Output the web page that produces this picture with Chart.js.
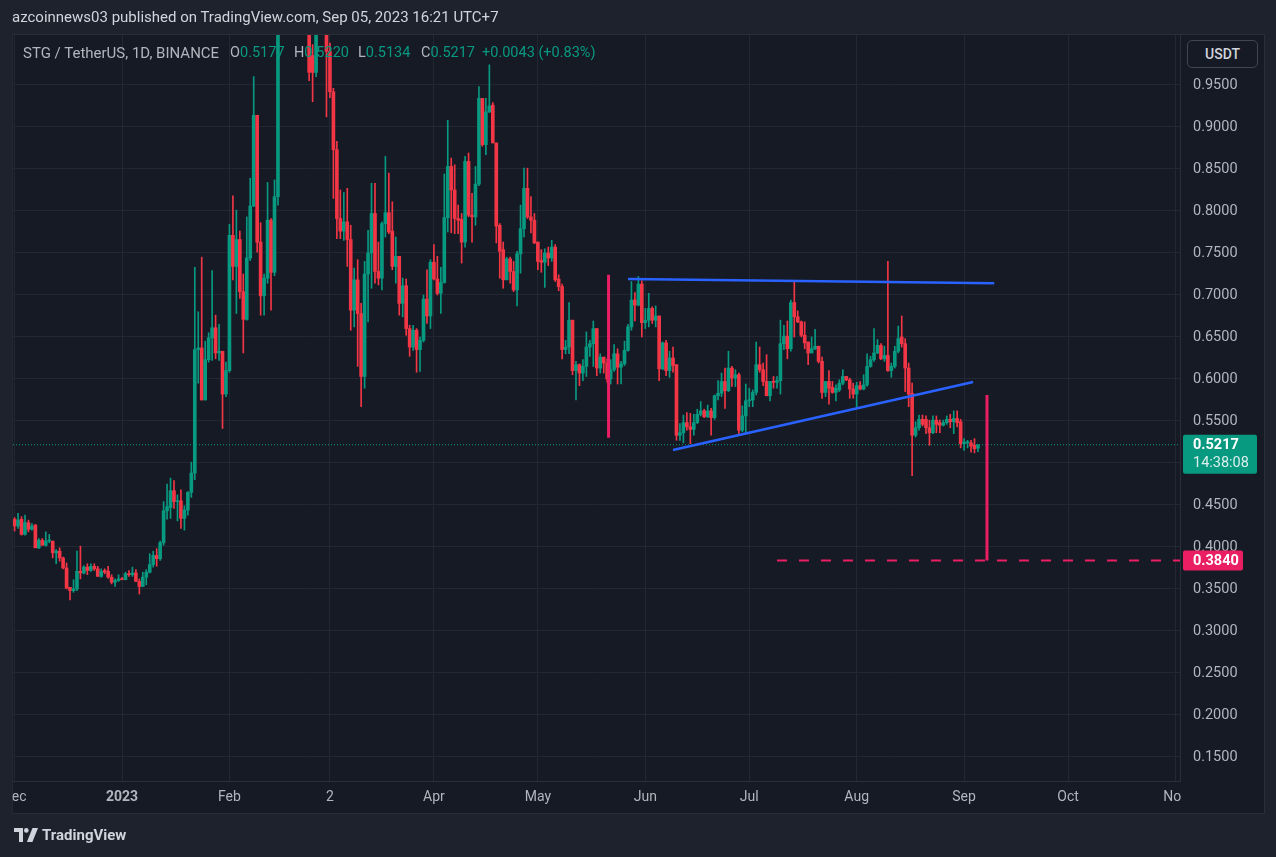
<!DOCTYPE html>
<html>
<head>
<meta charset="utf-8">
<script src="https://cdn.jsdelivr.net/npm/chart.js@4.4.0/dist/chart.umd.min.js"></script>
<style>
  html, body { margin: 0; padding: 0; background: #1e222d; }
  #wrap { position: relative; width: 1276px; height: 857px; overflow: hidden; font-family: Roboto, sans-serif; }
  #chart { position: absolute; left: 0; top: 0; }
  .hdr { position: absolute; left: 12px; top: 8px; font-size: 15px; color: #d1d4dc; white-space: nowrap; }
  .lg { position: absolute; top: 44px; font-size: 14.5px; color: #b2b5be; white-space: nowrap; }
  .lg b { font-weight: normal; color: #089981; }
  .unit { position: absolute; left: 1187px; top: 40px; width: 71px; height: 28px; box-sizing: border-box;
          border: 1px solid #434651; border-radius: 5px; background: #161a25; color: #d1d4dc;
          font-size: 14px; font-weight: 500; text-align: center; line-height: 26px; }
  .foot { position: absolute; left: 14px; top: 826px; height: 18px; display: flex; align-items: center;
          color: #d1d4dc; font-size: 15px; font-weight: 700; }
  .foot svg { margin-right: 4px; }
</style>
</head>
<body>
<div id="wrap">
  <canvas id="chart" width="1276" height="857"></canvas>
  <div class="hdr">azcoinnews03 published on TradingView.com, Sep 05, 2023 16:21 UTC+7</div>
  <div class="lg" style="left:23px; font-size:15px">STG / TetherUS, 1D, BINANCE</div>
  <div class="lg" style="left:230px">O<b>0.5177</b></div>
  <div class="lg" style="left:294px">H<b>0.5220</b></div>
  <div class="lg" style="left:358px">L<b>0.5134</b></div>
  <div class="lg" style="left:421px">C<b>0.5217</b></div>
  <div class="lg" style="left:482px"><b>+0.0043 (+0.83%)</b></div>
  <div class="unit">USDT</div>
  <div class="foot">
    <svg width="24" height="14" viewBox="0 0 24 14"><path fill="#d1d4dc" d="M0 0h9v14H5V4H0z"/><circle fill="#d1d4dc" cx="12.3" cy="2.4" r="2.3"/><path fill="#d1d4dc" d="M18.5 0H24l-5.6 14h-5.5z"/></svg>
    TradingView
  </div>
</div>
<script>
// daily candles [open, high, low, close], day 0 = 1 Dec 2022
const dec22 = [
  [.433,.435,.419,.425],[.425,.440,.422,.432],[.433,.436,.414,.415],[.415,.438,.414,.429],
  [.429,.432,.418,.421],[.421,.428,.420,.425],[.426,.427,.399,.399],[.399,.410,.398,.408],
  [.408,.410,.402,.402],[.402,.418,.401,.407],[.407,.415,.405,.408],[.407,.407,.387,.393],
  [.393,.397,.380,.395],[.395,.399,.383,.387],[.387,.388,.374,.375],[.375,.381,.350,.351],
  [.352,.352,.337,.348],[.348,.361,.346,.350],[.350,.395,.348,.371],[.371,.401,.362,.369],
  [.369,.378,.368,.376],[.376,.380,.367,.372],[.372,.380,.371,.377],[.377,.380,.372,.374],
  [.374,.377,.365,.365],[.365,.374,.364,.371],[.372,.374,.368,.370],[.371,.377,.363,.364],
  [.364,.367,.356,.358],[.358,.362,.353,.360],[.360,.367,.359,.362]
];
const jan23 = [
  [.362,.364,.361,.361],[.361,.370,.361,.368],[.368,.372,.365,.367],[.367,.376,.365,.369],
  [.369,.373,.359,.359],[.359,.362,.344,.353],[.353,.370,.353,.364],[.364,.373,.355,.370],
  [.370,.392,.369,.379],[.379,.395,.376,.390],[.390,.398,.377,.386],[.386,.407,.384,.405],
  [.405,.454,.402,.443],[.443,.475,.433,.448],[.447,.482,.434,.467],[.467,.479,.446,.454],
  [.454,.462,.431,.455],[.455,.468,.422,.434],[.434,.449,.420,.444],[.444,.466,.438,.465],
  [.465,.501,.459,.488],[.488,.733,.480,.635],[.635,.680,.595,.637],[.637,.745,.575,.575],
  [.575,.645,.575,.623],[.623,.655,.620,.649],[.649,.729,.622,.661],[.661,.676,.624,.631],
  [.631,.665,.622,.633],[.633,.633,.541,.582],[.582,.620,.579,.610]
];
const feb23 = [
  [.610,.784,.608,.771],[.771,.818,.718,.734],[.734,.801,.678,.766],[.766,.776,.696,.704],
  [.704,.725,.631,.671],[.671,.793,.670,.744],[.744,.839,.741,.806],[.806,.960,.805,.914],
  [.914,.914,.751,.763],[.763,.786,.676,.699],[.699,.725,.676,.720],[.720,.834,.714,.789],
  [.789,.791,.682,.727],[.727,.837,.723,.817],[.817,1.09,.807,1.06],[1.06,1.16,1.04,1.13],
  [1.13,1.19,1.06,1.09],[1.09,1.22,1.07,1.18],[1.18,1.25,1.10,1.12],[1.12,1.21,1.08,1.17],
  [1.17,1.20,1.07,1.09],[1.09,1.14,1.03,1.06],[1.06,1.10,1.02,1.04],[1.04,1.06,.955,.965],
  [.985,.998,.930,.965],[.965,1.06,.960,1.03],[1.03,1.10,1.02,1.08],[1.08,1.09,1.02,1.04]
];
const mar23 = [
  [1.04,1.05,.912,.990],[.990,1.00,.935,.942],[.942,.946,.815,.873],[.873,.883,.767,.791],
  [.791,.825,.767,.776],[.776,.822,.765,.787],[.787,.827,.734,.766],[.766,.783,.658,.682],
  [.682,.732,.662,.718],[.718,.742,.615,.678],[.678,.690,.567,.603],[.603,.740,.589,.725],
  [.725,.777,.668,.750],[.750,.833,.708,.797],[.797,.833,.714,.728],[.728,.763,.712,.720],
  [.720,.787,.706,.785],[.785,.865,.769,.798],[.798,.845,.773,.775],[.776,.811,.730,.734],
  [.734,.769,.714,.746],[.746,.746,.676,.690],[.690,.720,.674,.711],[.711,.719,.652,.660],
  [.660,.664,.627,.638],[.638,.664,.634,.658],[.658,.660,.608,.635],[.635,.650,.609,.646],
  [.646,.700,.644,.695],[.695,.730,.666,.675],[.675,.742,.660,.739]
];
const apr23 = [
  [.739,.760,.718,.719],[.719,.746,.700,.702],[.702,.733,.678,.715],[.715,.844,.714,.792],
  [.792,.908,.775,.853],[.853,.863,.774,.825],[.825,.855,.773,.791],[.791,.807,.773,.789],
  [.790,.797,.738,.763],[.763,.865,.757,.859],[.859,.869,.793,.795],[.795,.821,.763,.793],
  [.793,.853,.783,.832],[.832,.948,.830,.934],[.934,.934,.877,.879],[.879,.934,.867,.918],
  [.918,.974,.917,.925],[.926,.929,.881,.881],[.881,.881,.762,.782],[.783,.785,.720,.752],
  [.754,.763,.708,.718],[.718,.745,.718,.743],[.743,.745,.714,.728],[.728,.740,.704,.706],
  [.706,.752,.687,.749],[.749,.807,.726,.779],[.779,.851,.769,.827],[.827,.851,.791,.793],
  [.793,.817,.774,.789],[.789,.797,.761,.762]
];
const may23 = [
  [.763,.763,.730,.740],[.741,.754,.727,.739],[.739,.755,.709,.750],[.750,.757,.735,.744],
  [.744,.765,.740,.757],[.757,.760,.716,.718],[.719,.724,.705,.710],[.710,.713,.624,.635],
  [.635,.646,.630,.638],[.638,.691,.630,.670],[.670,.670,.605,.610],[.610,.621,.575,.617],
  [.617,.618,.592,.607],[.607,.623,.598,.615],[.615,.656,.603,.638],[.638,.646,.627,.642],
  [.642,.669,.615,.660],[.660,.660,.604,.613],[.613,.630,.607,.626],[.626,.626,.607,.619],
  [.619,.624,.596,.600],[.600,.623,.594,.611],[.611,.641,.609,.630],[.630,.636,.594,.614],
  [.614,.621,.594,.618],[.618,.645,.616,.634],[.634,.665,.633,.662],[.662,.716,.658,.694],
  [.694,.703,.669,.688],[.688,.722,.687,.713],[.713,.717,.650,.667]
];
const jun23 = [
  [.667,.684,.660,.670],[.670,.702,.662,.684],[.684,.686,.666,.670],[.670,.687,.662,.675],
  [.675,.675,.598,.612],[.612,.644,.611,.643],[.643,.646,.604,.610],[.610,.633,.602,.625],
  [.625,.638,.608,.616],[.617,.617,.527,.533],[.533,.547,.527,.536],[.536,.557,.524,.548],
  [.548,.560,.539,.543],[.543,.559,.523,.540],[.540,.558,.533,.548],[.548,.564,.547,.558],
  [.558,.573,.556,.562],[.562,.564,.554,.555],[.555,.569,.554,.562],[.562,.565,.533,.554],
  [.554,.581,.552,.580],[.580,.598,.575,.583],[.583,.607,.579,.597],[.597,.613,.565,.586],
  [.586,.633,.585,.613],[.613,.615,.591,.601],[.601,.611,.591,.605],[.605,.607,.535,.539],
  [.539,.568,.537,.556],[.556,.594,.536,.574]
];
const jul23 = [
  [.574,.589,.567,.575],[.575,.587,.567,.584],[.584,.644,.581,.617],[.617,.638,.608,.611],
  [.611,.619,.592,.597],[.597,.629,.580,.580],[.580,.597,.574,.597],[.597,.603,.589,.596],
  [.596,.603,.589,.598],[.598,.670,.582,.642],[.642,.664,.635,.651],[.651,.669,.624,.636],
  [.636,.694,.633,.691],[.691,.716,.650,.674],[.674,.681,.667,.668],[.668,.669,.650,.652],
  [.652,.668,.636,.643],[.644,.644,.617,.631],[.631,.650,.631,.636],[.636,.659,.635,.639],
  [.639,.639,.619,.621],[.621,.626,.577,.584],[.584,.597,.579,.597],[.597,.610,.570,.589],
  [.590,.597,.583,.584],[.584,.593,.574,.589],[.587,.599,.585,.595],[.595,.611,.593,.603],
  [.603,.603,.598,.599],[.599,.601,.577,.588],[.588,.595,.577,.582]
];
const aug23 = [
  [.582,.596,.565,.592],[.592,.597,.587,.588],[.588,.605,.587,.593],[.593,.630,.591,.615],
  [.615,.627,.614,.623],[.623,.660,.621,.631],[.631,.647,.630,.640],[.640,.642,.623,.624],
  [.624,.639,.621,.628],[.628,.740,.609,.610],[.610,.619,.602,.615],[.615,.639,.613,.633],
  [.633,.663,.631,.648],[.650,.675,.638,.642],[.642,.648,.585,.613],[.613,.619,.567,.582],
  [.583,.595,.485,.533],[.533,.549,.531,.542],[.542,.557,.539,.552],[.552,.557,.544,.546],
  [.552,.556,.535,.542],[.542,.551,.521,.536],[.536,.556,.535,.551],[.551,.556,.536,.546],
  [.548,.551,.536,.545],[.545,.551,.544,.548],[.548,.556,.546,.552],[.552,.558,.542,.549],
  [.549,.562,.535,.553],[.553,.562,.543,.548],[.549,.552,.518,.523]
];
const sep23 = [
  [.523,.529,.515,.525],[.524,.527,.518,.525],[.524,.527,.513,.520],[.521,.529,.512,.517],
  [.5177,.5220,.5134,.5217]
];

// axis ticks
const monthTickDays = [0, 31, 62, 91, 121, 151, 182, 212, 243, 274, 304, 335];
const monthTickLabels = ["Dec", "2023", "Feb", "2", "Apr", "May", "Jun", "Jul", "Aug", "Sep", "Oct", "Nov"];
const priceTicks = [0.15, 0.2, 0.25, 0.3, 0.35, 0.4, 0.45, 0.5, 0.55, 0.6, 0.65, 0.7, 0.75, 0.8, 0.85, 0.9, 0.95];

// drawings (day, price)
const resistanceDays = [177, 282.7];
const resistancePrices = [0.719, 0.714];
const supportDays = [190, 276.6];
const supportPrices = [0.5155, 0.5964];
const dropOneDays = [171.4, 171.4];
const dropOnePrices = [0.724, 0.530];
const dropTwoDays = [280.6, 280.6];
const dropTwoPrices = [0.581, 0.384];
const targetDays = [220, 336.3];
const targetPrice = 0.384;
const countdown = "14:38:08";

const candles = [].concat(dec22, jan23, feb23, mar23, apr23, may23, jun23, jul23, aug23, sep23);
const days = candles.map((c, i) => i);
const lastClose = candles[candles.length - 1][3];

const UP = "#089981";
const DOWN = "#f23645";
const PINK = "#e91e63";
const BLUE = "#2962ff";
const PANE = "#161a25";
const FRAME = "#1e222d";
const LINE = "#2a2e39";

const colors = candles.map(c => (c[3] >= c[0] ? UP : DOWN));
const pts = (xs, ys) => xs.map((x, k) => ({ x: x, y: ys[k] }));

// no label padding, the pane edges are fixed
const noPad = s => { s.paddingLeft = 0; s.paddingRight = 0; s.paddingTop = 0; s.paddingBottom = 0; };

// pane background, edge masks and the price tags on the axis
const tvFrame = {
  id: "tvFrame",
  beforeDraw(chart) {
    const { ctx, width, height } = chart;
    const x = chart.scales.x, y = chart.scales.y;
    ctx.save();
    ctx.fillStyle = FRAME;
    ctx.fillRect(0, 0, width, height);
    ctx.fillStyle = PANE;
    ctx.fillRect(x.left, y.top, y.right - x.left, x.bottom - y.top);
    ctx.strokeStyle = LINE;
    ctx.lineWidth = 1;
    ctx.strokeRect(x.left - 0.5, y.top - 0.5, y.right - x.left + 1, x.bottom - y.top + 1);
    ctx.restore();
  },
  afterDraw(chart) {
    const { ctx } = chart;
    const x = chart.scales.x, y = chart.scales.y;
    ctx.save();
    // hide label parts that fall outside the pane
    ctx.fillStyle = FRAME;
    ctx.fillRect(0, y.top, x.left - 0.5, x.bottom - y.top + 1);
    ctx.fillStyle = PANE;
    ctx.fillRect(y.left + 1, x.top + 1, y.right - y.left - 1, x.bottom - x.top - 1);

    // last price tag
    const py = y.getPixelForValue(lastClose);
    ctx.fillStyle = UP;
    ctx.beginPath();
    ctx.roundRect(y.left + 3, py - 10, 74, 39, 2);
    ctx.fill();
    ctx.textBaseline = "middle";
    ctx.textAlign = "left";
    ctx.fillStyle = "#ffffff";
    ctx.font = "bold 14.5px Roboto";
    ctx.fillText(lastClose.toFixed(4), y.left + 13, py + 1);
    ctx.fillStyle = "rgba(255,255,255,0.85)";
    ctx.font = "14.5px Roboto";
    ctx.fillText(countdown, y.left + 13, py + 19);

    // target tag
    const ty = y.getPixelForValue(targetPrice);
    ctx.fillStyle = PINK;
    ctx.beginPath();
    ctx.roundRect(y.left + 3, ty - 10, 60, 20, 2);
    ctx.fill();
    ctx.fillStyle = "#ffffff";
    ctx.font = "bold 14.5px Roboto";
    ctx.fillText(targetPrice.toFixed(4), y.left + 13, ty + 1);
    ctx.restore();
  }
};

new Chart(document.getElementById("chart"), {
  type: "bar",
  data: {
    datasets: [
      { type: "line", data: pts(resistanceDays, resistancePrices), borderColor: BLUE, borderWidth: 2.5, pointRadius: 0, order: 0 },
      { type: "line", data: pts(supportDays, supportPrices), borderColor: BLUE, borderWidth: 2.5, pointRadius: 0, order: 0 },
      { type: "line", data: pts(dropOneDays, dropOnePrices), borderColor: PINK, borderWidth: 3, pointRadius: 0, order: 0 },
      { type: "line", data: pts(dropTwoDays, dropTwoPrices), borderColor: PINK, borderWidth: 3, pointRadius: 0, order: 0 },
      { type: "line", data: pts(targetDays, [targetPrice, targetPrice]), borderColor: PINK, borderWidth: 2, borderDash: [10, 12], pointRadius: 0, order: 0 },
      {
        data: candles.map((c, i) => ({ x: days[i], y: [c[0], c[3]] })),
        backgroundColor: colors, barThickness: 3, minBarLength: 1, grouped: false, clip: 0, order: 5
      },
      {
        data: candles.map((c, i) => ({ x: days[i], y: [c[2], c[1]] })),
        backgroundColor: colors, barThickness: 1, grouped: false, clip: 0, order: 6
      },
      { type: "line", data: pts([-0.46, 336.3], [lastClose, lastClose]), borderColor: UP, borderWidth: 1, borderDash: [1, 2], pointRadius: 0, order: 7 }
    ]
  },
  options: {
    responsive: false,
    animation: false,
    devicePixelRatio: 1,
    events: [],
    layout: { autoPadding: false, padding: { left: 13, top: 35, right: 12, bottom: 44 } },
    plugins: { legend: { display: false }, tooltip: { enabled: false } },
    scales: {
      x: {
        type: "linear",
        min: -0.46,
        max: 336.3,
        offset: false,
        grid: { color: "#232733", drawTicks: false, offset: false },
        border: { color: LINE },
        afterBuildTicks: s => { s.ticks = monthTickDays.map(v => ({ value: v })); },
        afterFit: s => { s.height = 32; noPad(s); },
        ticks: {
          autoSkip: false,
          maxRotation: 0,
          padding: 8,
          color: "#b2b5be",
          font: c => ({ family: "Roboto", size: 14, weight: c.tick && c.tick.label === "2023" ? "bold" : "normal" }),
          callback: v => monthTickLabels[monthTickDays.indexOf(v)]
        }
      },
      y: {
        type: "linear",
        position: "right",
        min: 0.1214,
        max: 1.0095,
        grid: { color: "#232733", drawTicks: false },
        border: { color: LINE },
        afterBuildTicks: s => { s.ticks = priceTicks.map(v => ({ value: v })); },
        afterFit: s => { s.width = 84; noPad(s); },
        ticks: {
          autoSkip: false,
          padding: 13,
          color: "#b2b5be",
          font: { family: "Roboto", size: 14.5 },
          callback: v => v.toFixed(4)
        }
      }
    }
  },
  plugins: [tvFrame]
});
</script>
</body>
</html>
